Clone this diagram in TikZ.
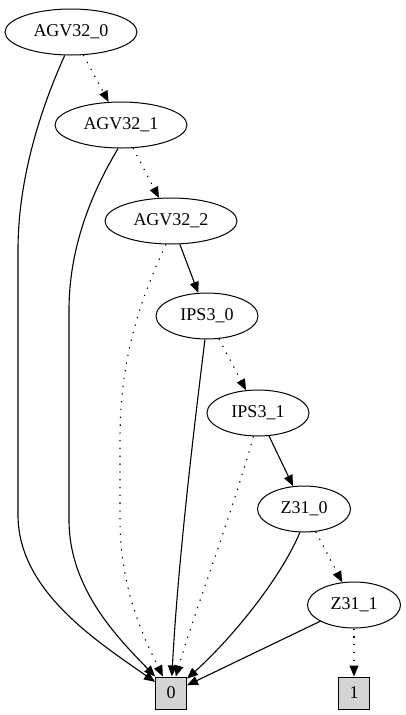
\documentclass[tikz,border=0pt]{standalone}
\usepackage{fontspec}
\setmainfont{Liberation Serif}
\usetikzlibrary{arrows.meta,shapes.geometric}
\tikzset{
  varnode/.style={draw,ellipse,line width=1pt,inner sep=0pt,minimum height=46pt,
    minimum width=#1,font=\fontsize{18}{20}\selectfont},
  varnode/.default=132pt,
  leafnode/.style={draw,fill=black!17,line width=1pt,inner sep=0pt,minimum width=31pt,
    minimum height=32pt,font=\fontsize{18}{20}\selectfont},
  highedge/.style={-{Triangle[length=11pt,width=9pt]},line width=1.1pt},
  lowedge/.style={highedge,dash pattern=on 1.3pt off 6.5pt}
}
\begin{document}
\begin{tikzpicture}[x=1pt,y=-1pt]
  \useasboundingbox (0,0) rectangle (405,715);
  \node[varnode] (A0) at (71,32) {AGV32\_0};
  \node[varnode] (A1) at (121,125) {AGV32\_1};
  \node[varnode] (A2) at (171,221) {AGV32\_2};
  \node[varnode=102pt] (I0) at (207,316) {IPS3\_0};
  \node[varnode=102pt] (I1) at (258,413) {IPS3\_1};
  \node[varnode=93pt] (Z0) at (304,509) {Z31\_0};
  \node[varnode=93pt] (Z1) at (354,605) {Z31\_1};
  \node[leafnode] (zero) at (171,693) {0};
  \node[leafnode] (one) at (354,693) {1};
  % solid edges
  \draw[highedge] (A0.-105) .. controls (40,110) and (18,180) .. (18,250)
    -- (18,515) .. controls (18,590) and (95,640) .. (zero);
  \draw[highedge] (A1.-97) .. controls (90,195) and (69,250) .. (69,310)
    -- (69,520) .. controls (69,590) and (120,640) .. (zero);
  \draw[highedge] (A2) -- (I0);
  \draw[highedge] (I0.-95) .. controls (195,420) and (178,560) .. (zero);
  \draw[highedge] (I1) -- (Z0);
  \draw[highedge] (Z0.-100) .. controls (280,580) and (230,640) .. (zero);
  \draw[highedge] (Z1) -- (zero);
  % dotted edges
  \draw[lowedge] (A0) -- (A1);
  \draw[lowedge] (A1) -- (A2);
  \draw[lowedge] (A2.-102) .. controls (130,320) and (120,380) .. (120,440)
    -- (120,520) .. controls (120,590) and (145,640) .. (zero);
  \draw[lowedge] (I0) -- (I1);
  \draw[lowedge] (I1.-101) .. controls (230,520) and (195,610) .. (zero);
  \draw[lowedge] (Z0) -- (Z1);
  \draw[lowedge] (Z1) -- (one);
\end{tikzpicture}
\end{document}
